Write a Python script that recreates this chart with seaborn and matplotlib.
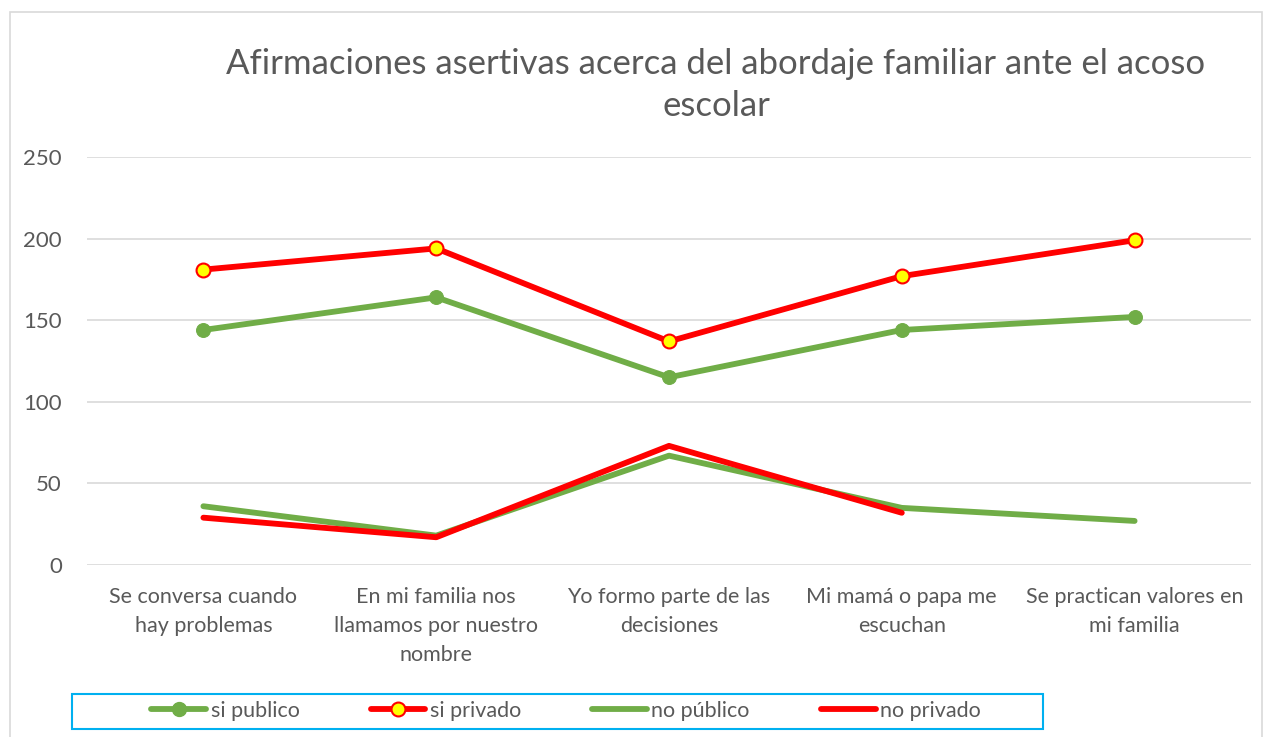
"""Afirmaciones asertivas - gráfico de líneas."""

import numpy as np
import pandas as pd
import matplotlib
matplotlib.use('Agg')
import matplotlib.pyplot as plt
from matplotlib.patches import Rectangle
from matplotlib.lines import Line2D
import seaborn as sns

sns.set_style('white')
plt.rcParams['font.family'] = ['Lato', 'DejaVu Sans']

# datos
categorias = ['Se conversa cuando\nhay problemas',
              'En mi familia nos\nllamamos por nuestro\nnombre',
              'Yo formo parte de las\ndecisiones',
              'Mi mamá o papa me\nescuchan',
              'Se practican valores en\nmi familia']
si_publico = [144, 164, 115, 144, 152]
si_privado = [181, 194, 137, 177, 199]
no_publico = [36, 18, 67, 35, 27]
no_privado = [29, 17, 73, 32, np.nan]

VERDE = '#70AD47'
ROJO = '#FF0000'
AMARILLO = '#FFFF00'
GRIS = '#595959'
LW = 4.2

W, H = 1271, 737
fig = plt.figure(figsize=(W / 100, H / 100), dpi=100)
ax = fig.add_axes([87 / W, 1 - 565 / H, (1251 - 87) / W, (565 - 157) / H])

df = pd.DataFrame({'cat': categorias, 'si_publico': si_publico,
                   'si_privado': si_privado, 'no_publico': no_publico,
                   'no_privado': no_privado})

sns.lineplot(data=df, x='cat', y='no_publico', ax=ax, color=VERDE, lw=LW,
             sort=False, solid_capstyle='round', zorder=3)
sns.lineplot(data=df, x='cat', y='no_privado', ax=ax, color=ROJO, lw=LW,
             sort=False, solid_capstyle='round', zorder=4)
sns.lineplot(data=df, x='cat', y='si_publico', ax=ax, color=VERDE, lw=LW,
             sort=False, marker='o', markersize=10, markeredgecolor=VERDE,
             markerfacecolor=VERDE, zorder=3)
sns.lineplot(data=df, x='cat', y='si_privado', ax=ax, color=ROJO, lw=LW,
             sort=False, marker='o', markersize=10, markeredgecolor=ROJO,
             markeredgewidth=1.5, markerfacecolor=AMARILLO, zorder=4)

ax.set_xlim(-0.5, 4.5)
ax.set_ylim(0, 250)
ax.set_yticks(range(0, 251, 50))
ax.set_xlabel('')
ax.set_ylabel('')
ax.grid(axis='y', color='#D9D9D9', lw=1.2)
ax.set_axisbelow(True)
for s in ax.spines.values():
    s.set_visible(False)
ax.tick_params(axis='x', length=0, labelsize=15.5, colors=GRIS, pad=16)
ax.tick_params(axis='y', length=0, labelsize=16, colors=GRIS, pad=18)
for lab in ax.get_xticklabels():
    lab.set_linespacing(1.55)

fig.text(716 / W, 1 - 85 / H,
         'Afirmaciones asertivas acerca del abordaje familiar ante el acoso\nescolar',
         ha='center', va='center', fontsize=25, color=GRIS, linespacing=1.4)

# borde del área del gráfico
fig.add_artist(Rectangle((10 / W, -0.05), (1262 - 10) / W, 1.05 - 12 / H,
                         transform=fig.transFigure, fill=False,
                         edgecolor='#D9D9D9', lw=1.2))

# leyenda
handles = [
    Line2D([], [], color=VERDE, lw=LW, marker='o', markersize=10,
           markerfacecolor=VERDE, markeredgecolor=VERDE),
    Line2D([], [], color=ROJO, lw=LW, marker='o', markersize=10,
           markerfacecolor=AMARILLO, markeredgecolor=ROJO, markeredgewidth=1.5),
    Line2D([], [], color=VERDE, lw=LW),
    Line2D([], [], color=ROJO, lw=LW),
]
leg = fig.legend(handles, ['si publico', 'si privado', 'no público', 'no privado'],
                 loc='center', bbox_to_anchor=(566 / W, 1 - 711 / H), ncol=4,
                 frameon=False, fontsize=15.5, handlelength=2.55,
                 handletextpad=0.2, columnspacing=3.3)
for t in leg.get_texts():
    t.set_color(GRIS)
fig.add_artist(Rectangle((72 / W, 1 - 729 / H), (1043 - 72) / W, 35 / H,
                         transform=fig.transFigure, fill=False,
                         edgecolor='#00B0F0', lw=1.5))

fig.savefig('out.png', dpi=100)
